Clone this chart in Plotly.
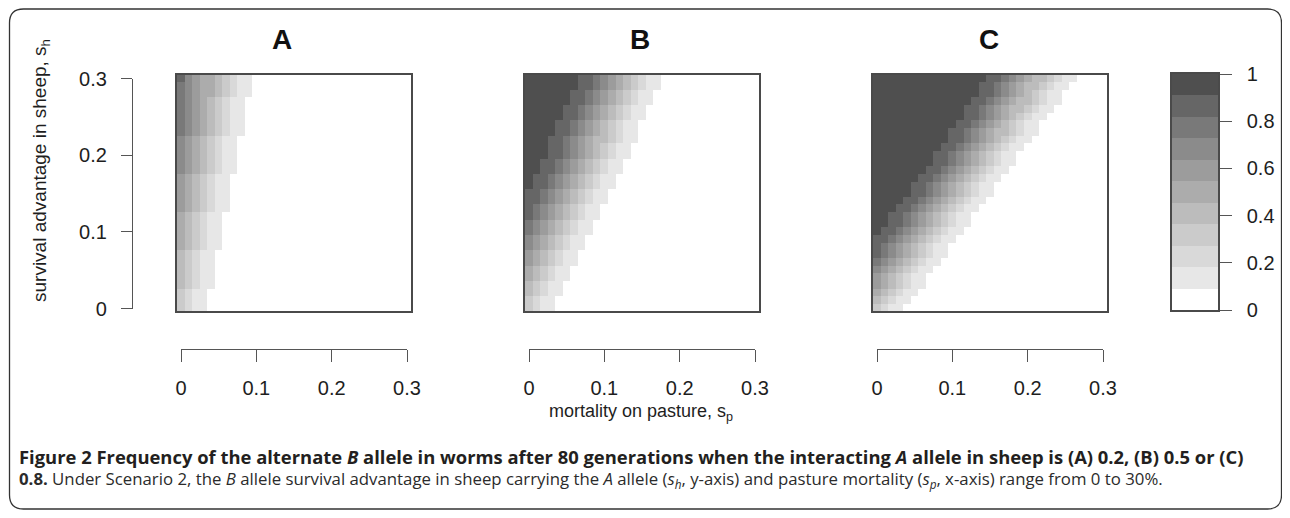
import plotly.graph_objects as go

# ---------------- data ----------------
SP = [0.00, 0.01, 0.02, 0.03, 0.04, 0.05, 0.06, 0.07, 0.08, 0.09, 0.10,
      0.11, 0.12, 0.13, 0.14, 0.15, 0.16, 0.17, 0.18, 0.19, 0.20,
      0.21, 0.22, 0.23, 0.24, 0.25, 0.26, 0.27, 0.28, 0.29, 0.30]
SH = list(SP)

# frequency class per cell, 0 = lowest (white) ... X = highest (darkest)
LEVEL_CHARS = "0123456789X"
N_LEVELS = 11
LEVEL_COLORS = ["#ffffff", "#e7e7e7", "#d9d9d9", "#cbcbcb", "#bcbcbc", "#acacac",
                "#9c9c9c", "#8b8b8b", "#797979", "#666666", "#4f4f4f"]

# rows listed from top (s_h = 0.30) to bottom (s_h = 0); trailing white cells omitted
A_ROWS = [
    "9765543211",
    "8765543211",
    "8765543211",
    "876543211",
    "876543211",
    "876543211",
    "876543211",
    "876543211",
    "76543211",
    "76543211",
    "76543211",
    "76543211",
    "76543211",
    "6543211",
    "6543211",
    "6543211",
    "6543211",
    "6543211",
    "543211",
    "543211",
    "543211",
    "543211",
    "543211",
    "43211",
    "43211",
    "43211",
    "43211",
    "43211",
    "3211",
    "3211",
    "3211",
]

B_ROWS = [
    "XXXXXXX99876543211",
    "XXXXXXX99876543211",
    "XXXXXX99876543211",
    "XXXXXX99876543211",
    "XXXXX99876543211",
    "XXXXX99876543211",
    "XXXX99876543211",
    "XXXX99876543211",
    "XXX998765443211",
    "XXX99876543211",
    "XXX99876543211",
    "XX99876543211",
    "XX99876543211",
    "X99876543211",
    "X99876543211",
    "99876543211",
    "99876543211",
    "9876543211",
    "9876543211",
    "876543211",
    "876543211",
    "76543211",
    "76543211",
    "6543211",
    "6543211",
    "543211",
    "543211",
    "43211",
    "43211",
    "3211",
    "3211",
]

C_ROWS = [
    "XXXXXXXXXXXXXXX998765443211",
    "XXXXXXXXXXXXXX998765443211",
    "XXXXXXXXXXXXXX99876543211",
    "XXXXXXXXXXXXX998765443211",
    "XXXXXXXXXXXX998765443211",
    "XXXXXXXXXXXX99876543211",
    "XXXXXXXXXXX99876543211",
    "XXXXXXXXXX998765443211",
    "XXXXXXXXXX99876543211",
    "XXXXXXXXX99876543211",
    "XXXXXXXX99876543211",
    "XXXXXXXX99876543211",
    "XXXXXXX99876543211",
    "XXXXXX99876543211",
    "XXXXX99876543211",
    "XXXXX99876543211",
    "XXXX99876543211",
    "XXX99876543211",
    "XX99876543211",
    "XX99876543211",
    "X99876543211",
    "99876543211",
    "9876543211",
    "9876543211",
    "876543211",
    "76543211",
    "6543211",
    "6543211",
    "543211",
    "43211",
    "3211",
]

PANEL_TITLES = ["A", "B", "C"]
AXIS_TICKVALS = [0, 0.1, 0.2, 0.3]
AXIS_TICKTEXT = ["0", "0.1", "0.2", "0.3"]
CB_TICKVALS = [0, 0.2, 0.4, 0.6, 0.8, 1]
CB_TICKTEXT = ["0", "0.2", "0.4", "0.6", "0.8", "1"]

Y_TITLE = "survival advantage in sheep, s<sub>h</sub>"
X_TITLE = "mortality on pasture, s<sub>p</sub>"
CAPTION_1 = ("<b>Figure 2 Frequency of the alternate <i>B</i> allele in worms after 80 generations "
             "when the interacting <i>A</i> allele in sheep is (A) 0.2, (B) 0.5 or (C)</b>")
CAPTION_2 = ("<b>0.8.</b> Under Scenario 2, the <i>B</i> allele survival advantage in sheep carrying "
             "the <i>A</i> allele (<i>s<sub>h</sub></i>, y-axis) and pasture mortality "
             "(<i>s<sub>p</sub></i>, x-axis) range from 0 to 30%.")

# ---------------- helpers ----------------
# the page body keeps an 8px margin, so the figure is made 16px smaller and all
# positions below are given in window pixels
OFF = 8
W, H = 1290 - 2 * OFF, 518 - 2 * OFF


def px(x):
    return (x - OFF) / W


def py(y):
    return 1 - (y - OFF) / H


def to_z(rows):
    z = []
    for r in reversed(rows):
        r = r.ljust(len(SP), "0")[:len(SP)]
        z.append([(LEVEL_CHARS.index(c) + 0.5) / N_LEVELS for c in r])
    return z


colorscale = []
for k, c in enumerate(LEVEL_COLORS):
    colorscale.append([k / N_LEVELS, c])
    colorscale.append([(k + 1) / N_LEVELS, c])

PLOT_FONT = "Liberation Sans, Arial, sans-serif"
CAP_FONT = "Open Sans, Noto Sans, sans-serif"
TXT = "#1e1e1e"
LINE = "#4a4a4a"

fig = go.Figure()

panel_x = [(177.0, 410.5), (525.0, 758.5), (873.0, 1106.5)]
panel_y = (74.5, 311.0)
tick_x = [(181.0, 407.0), (529.0, 755.0), (877.0, 1103.0)]
title_x = [282, 640, 989]

for i, rows in enumerate([A_ROWS, B_ROWS, C_ROWS]):
    n = "" if i == 0 else str(i + 1)
    fig.add_trace(go.Heatmap(
        x=SP, y=SH, z=to_z(rows), zmin=0, zmax=1, colorscale=colorscale,
        showscale=False, xaxis="x" + n, yaxis="y" + n, hoverinfo="skip"))

# tick axes (invisible carrier traces)
fig.add_trace(go.Scatter(x=[None], y=[None], xaxis="x4", yaxis="y4", showlegend=False))
for ax in ["x5", "x6", "x7"]:
    fig.add_trace(go.Scatter(x=[None], y=[None], xaxis=ax, yaxis="y5", showlegend=False))

# colour key
fig.add_trace(go.Heatmap(
    x=[0], y=[(k + 0.5) / N_LEVELS for k in range(N_LEVELS)],
    z=[[(k + 0.5) / N_LEVELS] for k in range(N_LEVELS)],
    zmin=0, zmax=1, colorscale=colorscale, showscale=False,
    xaxis="x8", yaxis="y8", hoverinfo="skip"))

box_axis = dict(range=[-0.005, 0.305], showline=True, mirror=True, linecolor=LINE,
                linewidth=1.5, showticklabels=False, ticks="", showgrid=False,
                zeroline=False, fixedrange=True)

layout = dict(
    width=W, height=H, margin=dict(l=0, r=0, t=0, b=0, autoexpand=False),
    paper_bgcolor="white", plot_bgcolor="rgba(0,0,0,0)", showlegend=False,
    font=dict(family=PLOT_FONT, color=TXT),
)

for i in range(3):
    n = "" if i == 0 else str(i + 1)
    layout["xaxis" + n] = dict(box_axis, domain=[px(panel_x[i][0]), px(panel_x[i][1])],
                               anchor="y" + n)
    layout["yaxis" + n] = dict(box_axis, domain=[py(panel_y[1]), py(panel_y[0])],
                               anchor="x" + n)

tick_font = dict(family=PLOT_FONT, size=20, color=TXT)

layout["xaxis4"] = dict(visible=False, domain=[px(20), px(30)], range=[0, 1])
layout["yaxis4"] = dict(domain=[py(308.5), py(78.5)], range=[0, 0.3], anchor="free",
                        position=px(132), side="left", showline=True, linecolor="#555555",
                        linewidth=1.2, ticks="outside", ticklen=11, tickcolor="#555555",
                        tickwidth=1.2, tickvals=AXIS_TICKVALS, ticktext=AXIS_TICKTEXT,
                        tickfont=tick_font, ticklabelstandoff=10, showgrid=False,
                        zeroline=False)
layout["yaxis5"] = dict(visible=False, domain=[py(330), py(320)], range=[0, 1])
for j, ax in enumerate(["xaxis5", "xaxis6", "xaxis7"]):
    layout[ax] = dict(domain=[px(tick_x[j][0]), px(tick_x[j][1])], range=[0, 0.3],
                      anchor="free", position=py(349), side="bottom", showline=True,
                      linecolor="#555555", linewidth=1.2, ticks="outside", ticklen=12,
                      tickcolor="#555555", tickwidth=1.2, tickvals=AXIS_TICKVALS,
                      ticktext=AXIS_TICKTEXT, tickfont=tick_font, ticklabelstandoff=9,
                      showgrid=False, zeroline=False)

layout["xaxis8"] = dict(domain=[px(1172), px(1218)], range=[-0.5, 0.5], anchor="y8",
                        showline=True, mirror=True, linecolor=LINE, linewidth=1.5,
                        showticklabels=False, ticks="", showgrid=False, zeroline=False)
layout["yaxis8"] = dict(domain=[py(310), py(74)], range=[0, 1], anchor="x8", side="right",
                        showline=True, mirror=True, linecolor=LINE, linewidth=1.5,
                        ticks="outside", ticklen=12, tickcolor="#555555", tickwidth=1.2,
                        tickvals=CB_TICKVALS, ticktext=CB_TICKTEXT, tickfont=tick_font,
                        ticklabelstandoff=11, showgrid=False, zeroline=False)

annotations = []
for t, x in zip(PANEL_TITLES, title_x):
    annotations.append(dict(text="<b>" + t + "</b>", x=px(x), y=py(40), xref="paper",
                            yref="paper", showarrow=False, xanchor="center", yanchor="middle",
                            font=dict(family=PLOT_FONT, size=28, color="#111111")))
annotations.append(dict(text=Y_TITLE, x=px(41), y=py(171), xref="paper", yref="paper",
                        showarrow=False, textangle=-90, xanchor="center", yanchor="middle",
                        font=dict(family=PLOT_FONT, size=19, color=TXT)))
annotations.append(dict(text=X_TITLE, x=px(641), y=py(412), xref="paper", yref="paper",
                        showarrow=False, xanchor="center", yanchor="middle",
                        font=dict(family=PLOT_FONT, size=18, color=TXT)))
annotations.append(dict(text=CAPTION_1, x=px(17), y=py(456), xref="paper", yref="paper",
                        showarrow=False, xanchor="left", yanchor="middle",
                        font=dict(family=CAP_FONT, size=18.4, color="#231f20")))
annotations.append(dict(text=CAPTION_2, x=px(17), y=py(479), xref="paper", yref="paper",
                        showarrow=False, xanchor="left", yanchor="middle",
                        font=dict(family=CAP_FONT, size=16.8, color="#2b2b2b")))
layout["annotations"] = annotations

# rounded frame around the figure
L, R, T, B, r = 9.5, 1281.5, 9, 509, 14
pts = [("M", L + r, T), ("L", R - r, T), ("Q", R, T, R, T + r), ("L", R, B - r),
       ("Q", R, B, R - r, B), ("L", L + r, B), ("Q", L, B, L, B - r), ("L", L, T + r),
       ("Q", L, T, L + r, T)]
path = ""
for p in pts:
    if p[0] == "Q":
        path += "Q%.5f,%.5f %.5f,%.5f " % (px(p[1]), py(p[2]), px(p[3]), py(p[4]))
    else:
        path += "%s%.5f,%.5f " % (p[0], px(p[1]), py(p[2]))
path += "Z"
layout["shapes"] = [dict(type="path", path=path, xref="paper", yref="paper",
                         line=dict(color="#333333", width=1.3), layer="above")]

fig.update_layout(**layout)
fig.write_html("out.html")
